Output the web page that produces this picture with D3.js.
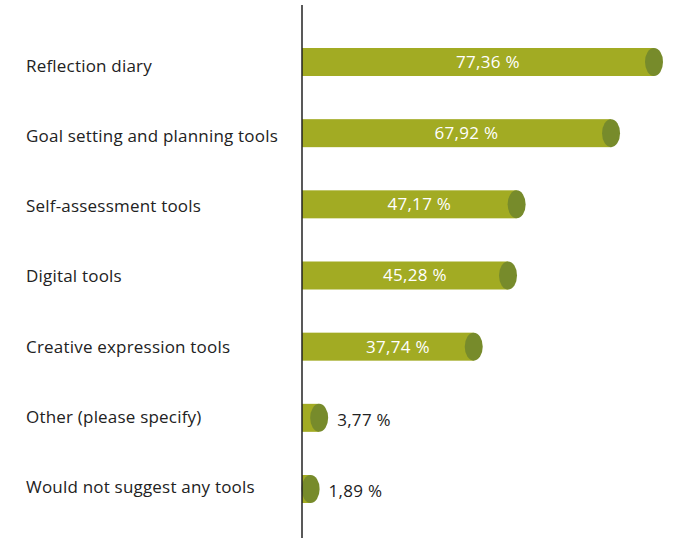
<!DOCTYPE html>
<html lang="en">
<head>
<meta charset="utf-8">
<script src="https://d3js.org/d3.v7.min.js"></script>
<style>
  body { margin: 0; background: #fff; }
  text { font-family: "Open Sans", Lato, sans-serif; }
</style>
</head>
<body>
<script>
// categories and shares (%)
var categories = ["Reflection diary", "Goal setting and planning tools", "Self-assessment tools",
                  "Digital tools", "Creative expression tools", "Other (please specify)",
                  "Would not suggest any tools"];
var values = [77.36, 67.92, 47.17, 45.28, 37.74, 3.77, 1.89];

var width = 675, height = 538;
var axisX = 302;

var svg = d3.select("body").append("svg")
            .attr("width", width)
            .attr("height", height);

// x scale: 0 at the vertical axis
var x = d3.scaleLinear().domain([0, 77.36]).range([axisX, 654]);

// bar rows and (slightly tighter) label rows
var y = d3.scalePoint().domain(categories).range([62, 489]);
var yLab = d3.scalePoint().domain(categories).range([66, 487]);
var barH = 28;

var fmt = function(v) { return d3.format(".2f")(v).replace(".", ",") + " %"; };

var data = categories.map(function(c, i) { return {cat: c, val: values[i]}; });

// category labels
svg.selectAll("text.cat")
   .data(data)
   .enter().append("text").attr("class", "cat")
   .attr("x", 26)
   .attr("y", function(d) { return yLab(d.cat); })
   .attr("dy", "0.35em")
   .attr("font-size", 17)
   .attr("letter-spacing", 0.2)
   .attr("fill", "#222")
   .text(function(d) { return d.cat; });

var rows = svg.selectAll("g.row")
              .data(data)
              .enter().append("g").attr("class", "row")
              .attr("transform", function(d) { return "translate(0," + y(d.cat) + ")"; });

// cylinder body
rows.append("rect")
    .attr("x", axisX)
    .attr("y", -barH / 2)
    .attr("width", function(d) { return x(d.val) - axisX; })
    .attr("height", barH)
    .attr("fill", "#a2ab23");

// cylinder cap
rows.append("ellipse")
    .attr("cx", function(d) { return x(d.val); })
    .attr("cy", 0)
    .attr("rx", 9)
    .attr("ry", barH / 2)
    .attr("fill", "#778b2b");

// value labels
rows.append("text")
    .attr("x", function(d) { return d.val > 20 ? (axisX + x(d.val)) / 2 + 10 : x(d.val) + 18; })
    .attr("y", function(d) { return d.val > 20 ? 0 : 2; })
    .attr("dy", "0.35em")
    .attr("text-anchor", function(d) { return d.val > 20 ? "middle" : "start"; })
    .attr("font-size", 17)
    .attr("letter-spacing", 0.3)
    .attr("fill", function(d) { return d.val > 20 ? "#fff" : "#222"; })
    .text(function(d) { return fmt(d.val); });

// vertical axis
svg.append("line")
   .attr("x1", axisX).attr("x2", axisX)
   .attr("y1", 5).attr("y2", height)
   .attr("stroke", "#222")
   .attr("stroke-width", 1.5);
</script>
</body>
</html>
